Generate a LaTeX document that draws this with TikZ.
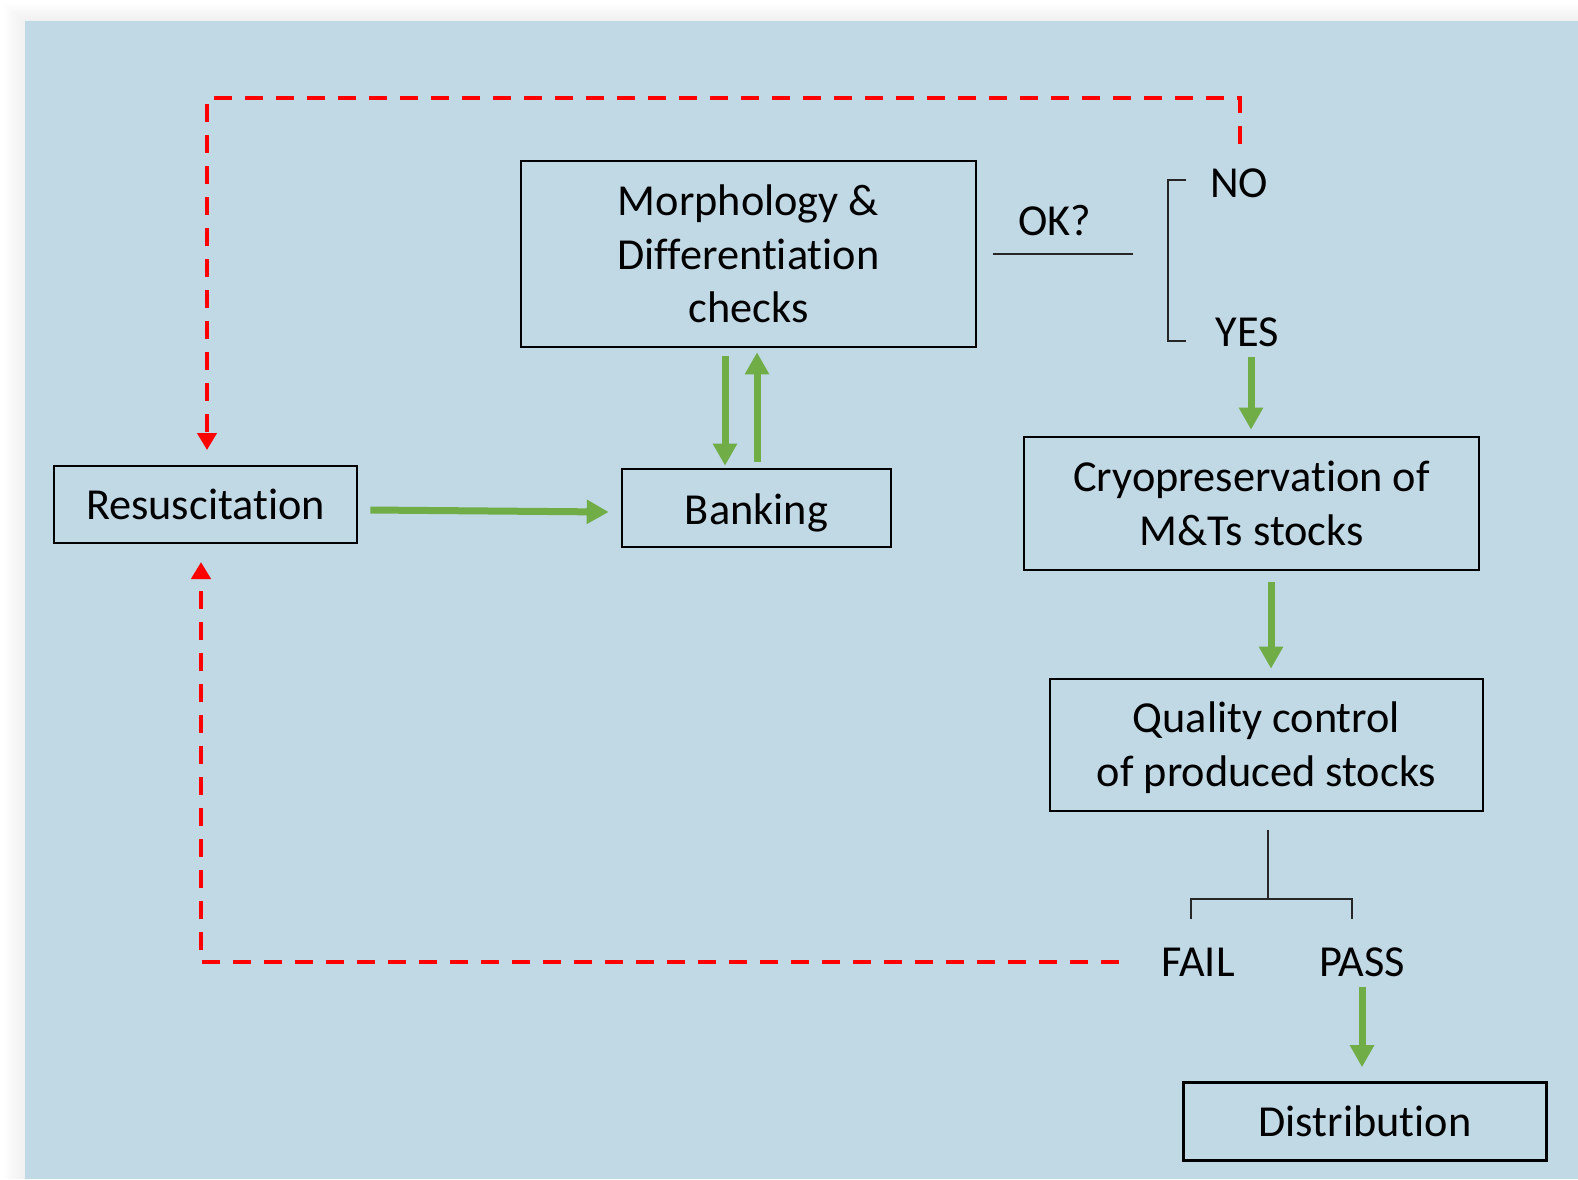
\documentclass[tikz,border=0pt]{standalone}
\usepackage{fontspec}
\setmainfont{Carlito}[Ligatures=NoCommon]
\usetikzlibrary{arrows.meta}
\definecolor{bgblue}{HTML}{C1D8E5}
\definecolor{grn}{HTML}{70AD47}
\definecolor{rd}{HTML}{FF0000}
\tikzset{
  box/.style={draw=black, line width=2.6pt, inner sep=0pt, align=center, font=\fontsize{44.3}{53.5}\selectfont},
  lbl/.style={inner sep=0pt, font=\fontsize{44.3}{53.5}\selectfont},
  garrow/.style={draw=grn, line width=7pt, -{Triangle[width=23pt,length=22pt]}},
  rarrow/.style={draw=rd, line width=4.5pt, dash pattern=on 18pt off 13pt, -{Triangle[width=19pt,length=17pt]}},
  thin/.style={draw=black!85, line width=1.6pt},
}
\begin{document}
\begin{tikzpicture}[x=1pt,y=-1pt]
\useasboundingbox (0,0) rectangle (1578,1179);
\fill[white] (0,0) rectangle (1578,1179);
\foreach \i in {1,...,7}{
  \fill[black,opacity=0.009] (25-\i*3,21-\i*2.5) rectangle (1578,1179);
}
\fill[bgblue] (25,21) rectangle (1578,1179);

% boxes
\node[box, minimum width=455pt, minimum height=186pt] (morph) at (748.5,254) {Morphology \&\\Differentiation\\checks};
\node[box, minimum width=303pt, minimum height=77pt] (resus) at (205.5,504.5) {Resuscitation};
\node[box, minimum width=269pt, minimum height=78pt] (bank) at (756.5,508) {\raisebox{-5pt}[\height][\depth]{Banking}};
\node[box, minimum width=455pt, minimum height=133pt] (cryo) at (1251.5,503.5) {Cryopreservation of\\M\&Ts stocks};
\node[box, minimum width=433pt, minimum height=132pt] (qc) at (1266.5,745) {\raisebox{-4pt}[\height][\depth]{\begin{tabular}{@{}c@{}}Quality control\\of produced stocks\end{tabular}}};
\node[box, minimum width=363pt, minimum height=78pt] (dist) at (1365,1121.5) {Distribution};

% labels
\node[lbl] (ok) at (1055,221) {OK?};
\node[lbl] (no) at (1239,183) {NO};
\node[lbl] (yes) at (1247,332) {YES};
\node[lbl] (fail) at (1198,962) {FAIL};
\node[lbl] (pass) at (1362,962) {PASS};

% coordinates
\coordinate (okend) at (1133,254);
\coordinate (bt) at (1168,180);
\coordinate (bb) at (1168,341);
\coordinate (qctop) at (1268,830);
\coordinate (qcmid) at (1268,899);
\coordinate (fl) at (1191,899);
\coordinate (pr) at (1352,899);
\coordinate (dx) at (725,0);
\coordinate (ux) at (757,0);
\coordinate (yx) at (1251,0);
\coordinate (cx) at (1271,0);
\coordinate (px) at (1362,0);
\coordinate (nostart) at (1240,144);
\coordinate (noc1) at (1240,98);
\coordinate (noc2) at (207,98);
\coordinate (notip) at (207,450);
\coordinate (failstart) at (1119,962);
\coordinate (failc) at (201,962);
\coordinate (failtip) at (201,562);

% thin lines
\draw[thin] ([xshift=16pt]morph.east) -- (okend);
\draw[thin] ([xshift=18pt]bt) -- (bt) -- (bb) -- ([xshift=18pt]bb);
\draw[thin] (qctop) -- (qcmid);
\draw[thin] ([yshift=-20pt]fl) -- (fl) -- (pr) -- ([yshift=-20pt]pr);

% green arrows
\draw[garrow] ([xshift=12pt,yshift=-5.5pt]resus.east) -- ([xshift=-12pt,yshift=-4pt]bank.west);
\draw[garrow] ([yshift=-8pt]morph.south -| dx) -- ([yshift=2pt]bank.north -| dx);
\draw[garrow] ([yshift=6pt]bank.north -| ux) -- ([yshift=-4pt]morph.south -| ux);
\draw[garrow] ([yshift=-10pt]yes.south -| yx) -- ([yshift=6pt]cryo.north -| yx);
\draw[garrow] ([yshift=-11pt]cryo.south -| cx) -- ([yshift=9pt]qc.north -| cx);
\draw[garrow] ([yshift=-10pt]pass.south -| px) -- ([yshift=14pt]dist.north -| px);

% red dashed
\draw[rarrow] (nostart) -- (noc1) -- (noc2) -- (notip);
\draw[rarrow] (failstart) -- (failc) -- (failtip);
\end{tikzpicture}
\end{document}
